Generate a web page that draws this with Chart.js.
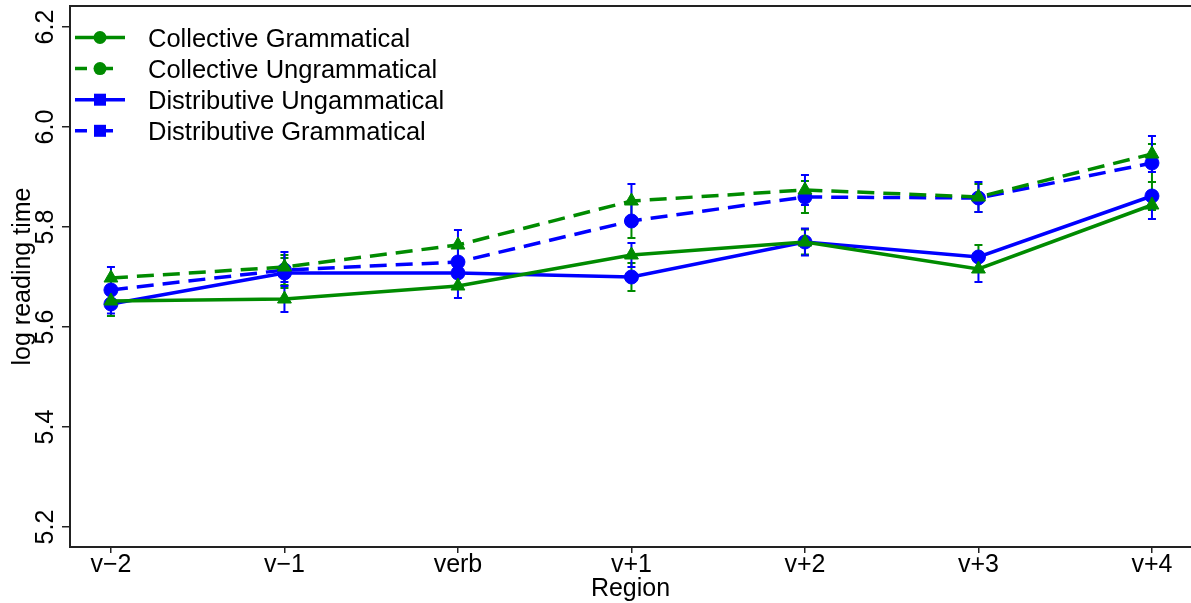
<!DOCTYPE html>
<html>
<head>
<meta charset="utf-8">
<script src="https://cdn.jsdelivr.net/npm/chart.js@4"></script>
<style>
  html, body { margin: 0; padding: 0; background: #fff; }
</style>
</head>
<body>
<canvas id="c" width="1191" height="603"></canvas>
<script>
// regions on the x axis
const regions = ["v\u22122", "v\u22121", "verb", "v+1", "v+2", "v+3", "v+4"];
const yTicks = [5.2, 5.4, 5.6, 5.8, 6.0, 6.2];

// mean log reading time per region
const collGram   = [5.652, 5.656, 5.682, 5.744, 5.770, 5.716, 5.844];
const collUngram = [5.698, 5.720, 5.764, 5.852, 5.874, 5.860, 5.946];
const distUngram = [5.646, 5.708, 5.708, 5.700, 5.770, 5.740, 5.862];
const distGram   = [5.674, 5.714, 5.730, 5.812, 5.860, 5.858, 5.928];

// standard errors
const collGramSE   = [0.025, 0.026, 0.024, 0.024, 0.027, 0.026, 0.028];
const collUngramSE = [0.022, 0.030, 0.030, 0.034, 0.030, 0.030, 0.036];
const distUngramSE = [0.024, 0.030, 0.025, 0.028, 0.025, 0.024, 0.028];
const distGramSE   = [0.025, 0.030, 0.028, 0.034, 0.032, 0.028, 0.038];

const GREEN = "#008b00";
const BLUE = "#0000ff";
const FONT = "'Liberation Sans', Arial, Helvetica, sans-serif";
const DASH = [17, 9];

function pts(vals) {
  return vals.map((v, i) => ({ x: i, y: v }));
}

function series(label, vals, se, color, dashed, pointStyle, legendMarker, errColor) {
  return {
    label: label,
    data: pts(vals),
    se: se,
    errColor: errColor,
    legendMarker: legendMarker,
    borderColor: color,
    backgroundColor: color,
    borderWidth: 3.5,
    borderDash: dashed ? DASH : [],
    pointStyle: pointStyle,
    pointRadius: pointStyle === "triangle" ? 8 : 7,
    pointBorderWidth: 1,
    pointBorderColor: color,
    pointBackgroundColor: color,
    tension: 0,
    fill: false
  };
}

const datasets = [
  series("Collective Grammatical", collGram, collGramSE, GREEN, false, "triangle", "circle", BLUE),
  series("Collective Ungrammatical", collUngram, collUngramSE, GREEN, true, "triangle", "circle", BLUE),
  series("Distributive Ungammatical", distUngram, distUngramSE, BLUE, false, "circle", "square", GREEN),
  series("Distributive Grammatical", distGram, distGramSE, BLUE, true, "circle", "square", GREEN)
];

// error bars, drawn under the markers
const errorBars = {
  id: "errorBars",
  beforeDatasetsDraw(chart) {
    const ctx = chart.ctx;
    const y = chart.scales.y;
    const order = [2, 3, 0, 1];
    ctx.save();
    order.forEach(di => {
      const ds = chart.data.datasets[di];
      const meta = chart.getDatasetMeta(di);
      ctx.strokeStyle = ds.errColor;
      ctx.lineWidth = 2;
      ctx.setLineDash([]);
      meta.data.forEach((p, i) => {
        const v = ds.data[i].y, e = ds.se[i];
        const top = y.getPixelForValue(v + e);
        const bot = y.getPixelForValue(v - e);
        ctx.beginPath();
        ctx.moveTo(p.x, top); ctx.lineTo(p.x, bot);
        ctx.moveTo(p.x - 4, top); ctx.lineTo(p.x + 4, top);
        ctx.moveTo(p.x - 4, bot); ctx.lineTo(p.x + 4, bot);
        ctx.stroke();
      });
    });
    ctx.restore();
  }
};

// rotated y labels, top frame line and legend
const decorations = {
  id: "decorations",
  afterDraw(chart) {
    const ctx = chart.ctx;
    const y = chart.scales.y;
    const area = chart.chartArea;
    ctx.save();

    // top frame line
    ctx.strokeStyle = "#222";
    ctx.lineWidth = 2;
    ctx.beginPath();
    ctx.moveTo(area.left, area.top);
    ctx.lineTo(chart.width, area.top);
    ctx.stroke();

    // y tick labels, rotated like base R
    ctx.fillStyle = "#000";
    ctx.font = "25px " + FONT;
    ctx.textAlign = "center";
    ctx.textBaseline = "alphabetic";
    yTicks.forEach(t => {
      const py = y.getPixelForValue(t);
      ctx.save();
      ctx.translate(53, py);
      ctx.rotate(-Math.PI / 2);
      ctx.fillText(t.toFixed(1), 0, 0);
      ctx.restore();
    });

    // y axis title
    ctx.save();
    ctx.translate(30, (area.top + area.bottom) / 2);
    ctx.rotate(-Math.PI / 2);
    ctx.fillText("log reading time", 0, 0);
    ctx.restore();

    // legend
    ctx.font = "25.5px " + FONT;
    ctx.textAlign = "left";
    ctx.textBaseline = "alphabetic";
    chart.data.datasets.forEach((ds, i) => {
      const ly = 37.5 + i * 31.1;
      ctx.strokeStyle = ds.borderColor;
      ctx.fillStyle = ds.borderColor;
      ctx.lineWidth = 3.5;
      ctx.beginPath();
      if (ds.borderDash.length) {
        ctx.moveTo(75, ly); ctx.lineTo(87, ly);
        ctx.moveTo(96, ly); ctx.lineTo(113, ly);
      } else {
        ctx.moveTo(75, ly); ctx.lineTo(125, ly);
      }
      ctx.stroke();
      if (ds.legendMarker === "circle") {
        ctx.beginPath();
        ctx.arc(100, ly, 6.5, 0, Math.PI * 2);
        ctx.fill();
      } else {
        ctx.fillRect(94, ly - 6, 12, 12);
      }
      ctx.fillStyle = "#000";
      ctx.fillText(ds.label, 148, ly + 9);
    });
    ctx.restore();
  }
};

new Chart(document.getElementById("c"), {
  type: "line",
  data: { datasets: datasets },
  plugins: [errorBars, decorations],
  options: {
    responsive: false,
    animation: false,
    layout: { autoPadding: false, padding: { left: 0, right: 0, top: 6, bottom: 0 } },
    plugins: { legend: { display: false }, tooltip: { enabled: false } },
    scales: {
      x: {
        type: "linear",
        min: -0.236,
        max: 6.225,
        afterBuildTicks: s => { s.ticks = regions.map((r, i) => ({ value: i })); },
        afterFit: s => { s.height = 56; s.paddingLeft = 0; s.paddingRight = 0; },
        ticks: {
          color: "#000",
          font: { family: FONT, size: 25 },
          padding: -3,
          maxRotation: 0,
          autoSkip: false,
          callback: v => regions[v]
        },
        grid: { drawOnChartArea: false, drawTicks: true, tickLength: 6, color: "#222", lineWidth: 1.5 },
        border: { display: true, color: "#222", width: 2 },
        title: {
          display: true,
          text: "Region",
          color: "#000",
          font: { family: FONT, size: 25 },
          padding: { top: 0, bottom: -1 }
        }
      },
      y: {
        min: 5.16,
        max: 6.242,
        afterBuildTicks: s => { s.ticks = yTicks.map(v => ({ value: v })); },
        afterFit: s => { s.width = 70; s.paddingTop = 0; s.paddingBottom = 0; },
        ticks: { display: false },
        grid: { drawOnChartArea: false, drawTicks: true, tickLength: 8, color: "#222", lineWidth: 1.5 },
        border: { display: true, color: "#222", width: 2 }
      }
    }
  }
});
</script>
</body>
</html>
